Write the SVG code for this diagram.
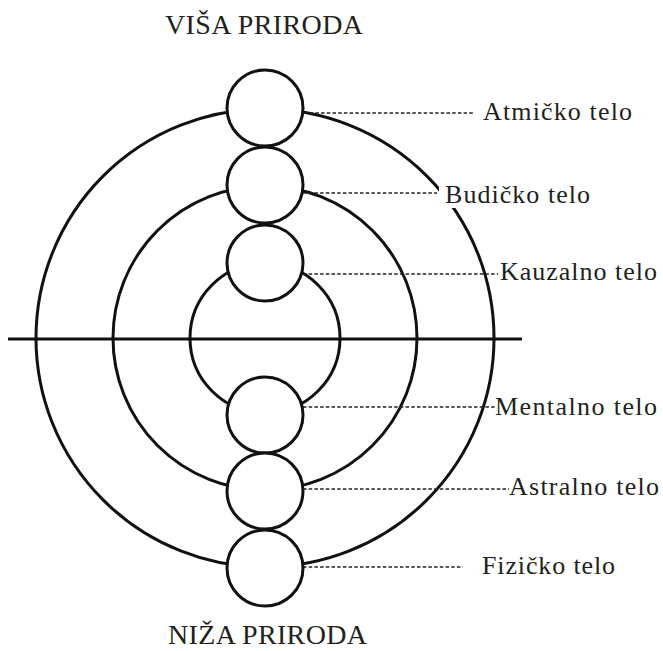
<svg xmlns="http://www.w3.org/2000/svg" width="663" height="651" viewBox="0 0 663 651">
<style>
.big{fill:none;stroke:#111;stroke-width:3}
.sm{fill:#fff;stroke:#111;stroke-width:3}
.dash{stroke:#222;stroke-width:1.5;stroke-dasharray:3.5 2.2;fill:none}
.lbl{font-family:"Liberation Serif","Times New Roman",serif;font-size:26px;fill:#231f20}
.ttl{font-family:"Liberation Serif","Times New Roman",serif;font-size:28px;fill:#231f20}
</style>
<rect width="663" height="651" fill="#fff"/>
<g id="rings">
<circle class="big" cx="265" cy="338" r="229"/>
<circle class="big" cx="265" cy="338" r="152"/>
<circle class="big" cx="265" cy="338" r="75"/>
<line x1="8" y1="339" x2="522" y2="339" stroke="#111" stroke-width="3"/>
</g>
<g id="connectors">
<line class="dash" x1="304" y1="113" x2="473" y2="113"/>
<line class="dash" x1="303" y1="193" x2="437" y2="193"/>
<line class="dash" x1="303" y1="274" x2="498" y2="274"/>
<line class="dash" x1="303" y1="407" x2="495" y2="407"/>
<line class="dash" x1="303" y1="489" x2="509" y2="489"/>
<line class="dash" x1="303" y1="567" x2="463" y2="567"/>
</g>
<g id="atmicko"><circle class="sm" cx="265" cy="108" r="38"/><text class="lbl" x="483" y="120" textLength="149">Atmičko telo</text></g>
<g id="budicko"><circle class="sm" cx="265" cy="185" r="38"/><rect x="439" y="187" width="156" height="21" fill="#fff"/><text class="lbl" x="445" y="203" textLength="145">Budičko telo</text></g>
<g id="kauzalno"><circle class="sm" cx="265" cy="263" r="38"/><text class="lbl" x="500" y="280" textLength="157">Kauzalno telo</text></g>
<g id="mentalno"><circle class="sm" cx="265" cy="415" r="38"/><text class="lbl" x="495" y="415" textLength="162">Mentalno telo</text></g>
<g id="astralno"><circle class="sm" cx="265" cy="491" r="38"/><text class="lbl" x="509" y="495" textLength="150">Astralno telo</text></g>
<g id="fizicko"><circle class="sm" cx="265" cy="568" r="38"/><text class="lbl" x="482" y="574" textLength="133">Fizičko telo</text></g>
<g id="titles">
<text class="ttl" x="165" y="34" textLength="198">VIŠA PRIRODA</text>
<text class="ttl" x="168" y="644" textLength="199">NIŽA PRIRODA</text>
</g>
</svg>
